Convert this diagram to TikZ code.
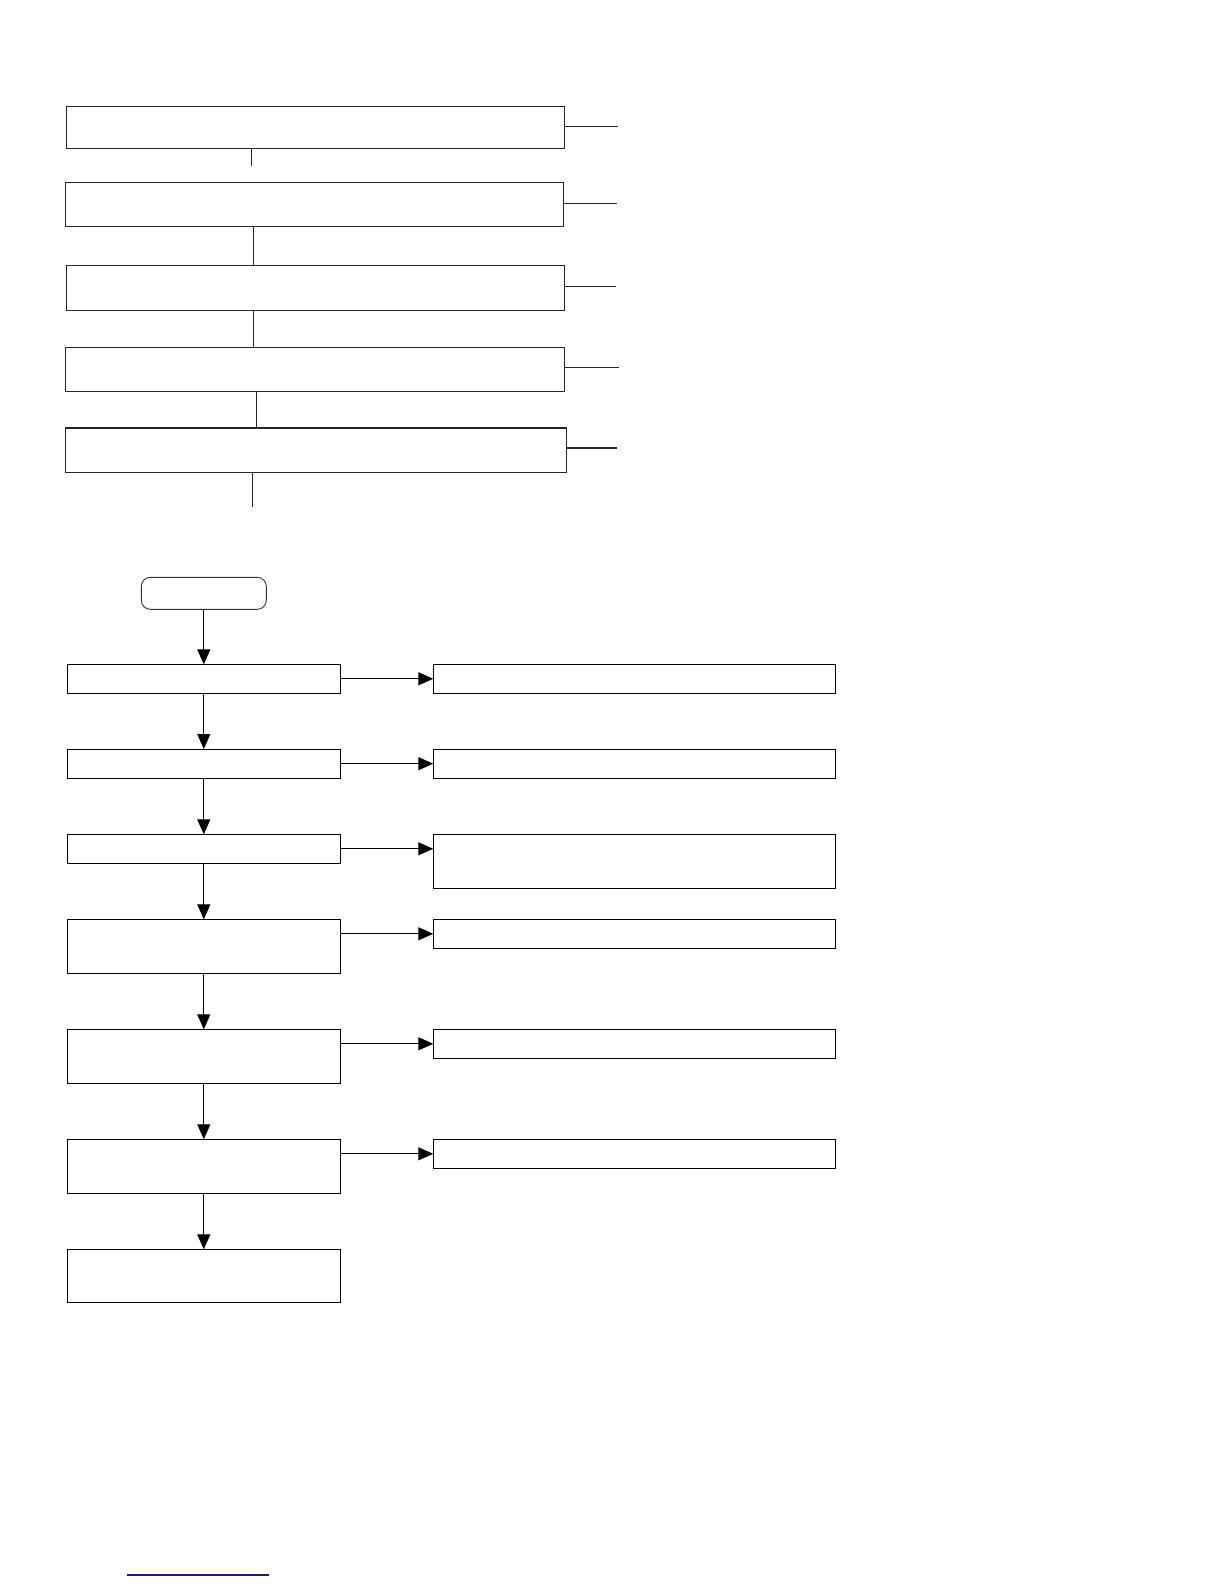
\documentclass[tikz,border=0pt]{standalone}
\usetikzlibrary{arrows.meta}
\definecolor{linkblue}{RGB}{25,25,140}
\begin{document}
\begin{tikzpicture}[x=1pt,y=-1pt,
  topbox/.style={draw=black!85, line width=1.5pt, minimum width=498pt, inner sep=0pt, outer sep=0pt},
  topline/.style={draw=black!85, line width=1.3pt},
  lowbox/.style={draw=black, line width=1.1pt, inner sep=0pt, outer sep=0pt},
  startbox/.style={draw=black!80, line width=0.9pt, rounded corners=9pt, inner sep=0pt, outer sep=0pt, minimum width=125pt, minimum height=32pt},
  arr/.style={draw=black, line width=1.1pt, -{Triangle[length=15pt,width=13pt]}}]
\useasboundingbox[fill=white] (0,0) rectangle (1224,1584);

% top chain
\node[topbox, minimum height=42pt]  (T1) at (315.7,127.3) {};
\node[topbox, minimum height=43.6pt] (T2) at (314.3,204.5) {};
\node[topbox, minimum height=45pt, minimum width=498.4pt] (T3) at (315.5,287.8) {};
\node[topbox, minimum height=44pt, minimum width=499.4pt] (T4) at (315,369.3) {};
\node[topbox, minimum height=44.3pt, minimum width=501pt] (T5) at (315.8,450.2) {};

\coordinate (s1) at (617.7,126.3);
\coordinate (s2) at (616.7,203.3);
\coordinate (s3) at (615.7,286.3);
\coordinate (s4) at (618.7,367.3);
\coordinate (s5) at (616.7,448);
\draw[topline] (T1.east |- s1) -- (s1);
\draw[topline] (T2.east |- s2) -- (s2);
\draw[topline] (T3.east |- s3) -- (s3);
\draw[topline] (T4.east |- s4) -- (s4);
\draw[topline] (T5.east |- s5) -- (s5);

\coordinate (c1) at (251.3,166.3);
\coordinate (k2) at (253.3,0);
\coordinate (k3) at (253.3,0);
\coordinate (k4) at (256.7,0);
\coordinate (c5) at (252.3,506.7);
\draw[topline] (T1.south -| c1) -- (c1);
\draw[topline] (T2.south -| k2) -- (T3.north -| k2);
\draw[topline] (T3.south -| k3) -- (T4.north -| k3);
\draw[topline] (T4.south -| k4) -- (T5.north -| k4);
\draw[topline] (T5.south -| c5) -- (c5);

% lower flow
\node[startbox] (S) at (203.8,593.3) {};
\node[lowbox, minimum width=273pt, minimum height=29pt]   (A) at (203.8,678.8) {};
\node[lowbox, minimum width=273pt, minimum height=29.3pt] (B) at (203.8,763.7) {};
\node[lowbox, minimum width=273pt, minimum height=29pt]   (C) at (203.8,848.8) {};
\node[lowbox, minimum width=273pt, minimum height=53.7pt] (D) at (203.8,946.2) {};
\node[lowbox, minimum width=273pt, minimum height=54pt]   (E) at (203.8,1056.3) {};
\node[lowbox, minimum width=273pt, minimum height=54pt]   (F) at (203.8,1166.3) {};
\node[lowbox, minimum width=273pt, minimum height=53pt]   (G) at (203.8,1275.8) {};

\node[lowbox, minimum width=402.2pt, minimum height=29pt]   (R1) at (634.4,678.8) {};
\node[lowbox, minimum width=402.2pt, minimum height=29.3pt] (R2) at (634.4,763.7) {};
\node[lowbox, minimum width=402.2pt, minimum height=54pt]   (R3) at (634.4,861.3) {};
\node[lowbox, minimum width=402.2pt, minimum height=29pt]   (R4) at (634.4,933.8) {};
\node[lowbox, minimum width=402.2pt, minimum height=29pt]   (R5) at (634.4,1043.8) {};
\node[lowbox, minimum width=402.2pt, minimum height=29pt]   (R6) at (634.4,1153.8) {};

\draw[arr] (S.south) -- (A.north);
\draw[arr] (A.south) -- (B.north);
\draw[arr] (B.south) -- (C.north);
\draw[arr] (C.south) -- (D.north);
\draw[arr] (D.south) -- (E.north);
\draw[arr] (E.south) -- (F.north);
\draw[arr] (F.south) -- (G.north);

\draw[arr] (A.east) -- (R1.west);
\draw[arr] (B.east) -- (R2.west);
\draw[arr] (C.east) -- (C.east -| R3.west);
\draw[arr] (R4.west -| D.east) -- (R4.west);
\draw[arr] (R5.west -| E.east) -- (R5.west);
\draw[arr] (R6.west -| F.east) -- (R6.west);

% link underline
\coordinate (u1) at (127,1575);
\coordinate (u2) at (269,1575);
\draw[linkblue, line width=1.2pt] (u1) -- (u2);
\end{tikzpicture}
\end{document}
